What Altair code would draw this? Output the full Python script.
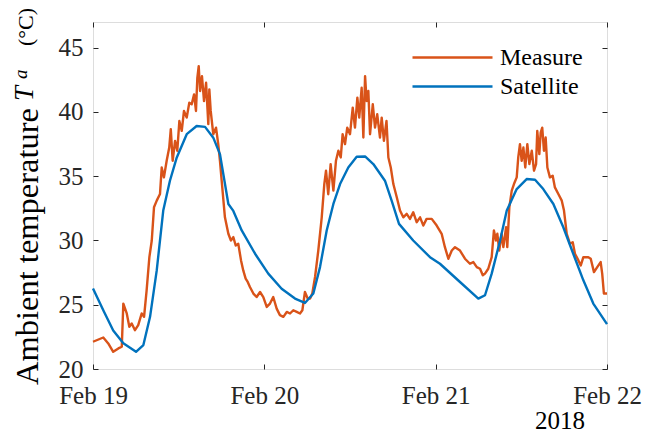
import altair as alt
import pandas as pd

# ---- data (x = days since Feb 19 2018 00:00, y = temperature in degC) ----
measure_day = [0.000, 0.060, 0.089, 0.118, 0.148, 0.168, 0.177, 0.197, 0.212, 0.226,
               0.245, 0.264, 0.284, 0.298, 0.313, 0.329, 0.343, 0.356, 0.372, 0.391,
               0.401, 0.414, 0.430, 0.445, 0.454, 0.465, 0.479, 0.492, 0.504, 0.518,
               0.531, 0.547, 0.562, 0.576, 0.590, 0.601, 0.609, 0.617, 0.625, 0.636,
               0.648, 0.660, 0.673, 0.679, 0.687, 0.702, 0.718, 0.731, 0.741, 0.751,
               0.770, 0.790, 0.805, 0.819, 0.833, 0.848, 0.864, 0.877, 0.891, 0.903,
               0.916, 0.936, 0.955, 0.975, 0.994, 1.014, 1.033, 1.052, 1.072, 1.091,
               1.111, 1.131, 1.150, 1.169, 1.189, 1.208, 1.222, 1.237, 1.253, 1.267,
               1.280, 1.296, 1.315, 1.335, 1.350, 1.360, 1.373, 1.387, 1.403, 1.418,
               1.432, 1.446, 1.457, 1.471, 1.484, 1.500, 1.516, 1.529, 1.543, 1.554,
               1.568, 1.578, 1.588, 1.597, 1.607, 1.617, 1.633, 1.646, 1.659, 1.675,
               1.685, 1.698, 1.713, 1.724, 1.738, 1.753, 1.773, 1.792, 1.811, 1.831,
               1.850, 1.869, 1.889, 1.909, 1.928, 1.947, 1.977, 2.006, 2.035, 2.054,
               2.074, 2.094, 2.113, 2.142, 2.171, 2.200, 2.220, 2.240, 2.259, 2.275,
               2.288, 2.307, 2.327, 2.340, 2.352, 2.360, 2.371, 2.385, 2.395, 2.411,
               2.418, 2.430, 2.444, 2.457, 2.473, 2.482, 2.492, 2.502, 2.512, 2.523,
               2.535, 2.547, 2.561, 2.574, 2.586, 2.593, 2.605, 2.613, 2.622, 2.632,
               2.642, 2.652, 2.667, 2.683, 2.696, 2.716, 2.736, 2.749, 2.765, 2.784,
               2.800, 2.813, 2.833, 2.847, 2.862, 2.891, 2.905, 2.924, 2.943, 2.963,
               2.972, 2.982, 3.000]
measure_temp = [22.12, 22.45, 21.99, 21.34, 21.60, 21.73, 25.09, 24.32, 23.28, 23.54,
                23.02, 23.41, 24.32, 24.06, 26.12, 28.70, 30.00, 32.58, 33.10, 33.62,
                35.68, 34.91, 36.20, 37.23, 38.66, 36.20, 37.75, 36.98, 39.30, 38.53,
                40.08, 39.56, 40.72, 40.60, 41.37, 40.08, 42.66, 43.57, 41.63, 42.79,
                40.85, 42.27, 39.05, 41.76, 40.08, 38.27, 38.78, 37.50, 36.20, 34.65,
                31.80, 30.52, 30.00, 30.26, 29.61, 29.74, 28.45, 27.67, 27.03, 26.77,
                26.38, 25.87, 25.60, 25.99, 25.60, 24.83, 25.09, 25.60, 24.70, 24.19,
                24.06, 24.44, 24.32, 24.57, 24.44, 24.32, 24.57, 25.99, 25.48, 25.48,
                25.87, 27.16, 29.22, 31.80, 34.39, 35.43, 33.60, 35.94, 33.88, 36.20,
                36.98, 36.46, 38.27, 37.50, 38.78, 38.27, 40.33, 38.78, 41.11, 39.56,
                41.88, 38.01, 42.79, 40.85, 41.63, 38.27, 40.60, 38.78, 39.82, 38.01,
                39.56, 37.75, 39.30, 36.46, 35.68, 34.39, 33.36, 32.33, 31.80, 32.07,
                31.68, 32.20, 31.42, 31.80, 31.16, 31.68, 31.68, 31.16, 30.52, 29.48,
                28.58, 29.22, 29.48, 29.22, 28.58, 28.19, 28.32, 27.93, 27.80, 27.29,
                27.42, 27.80, 28.70, 30.78, 30.00, 30.52, 29.22, 30.52, 29.48, 31.03,
                29.48, 32.58, 33.88, 34.39, 34.91, 36.46, 37.50, 36.20, 37.23, 35.68,
                37.50, 35.94, 36.98, 35.43, 35.94, 38.53, 36.72, 38.40, 38.78, 36.98,
                38.01, 35.68, 34.91, 35.04, 34.13, 33.62, 33.10, 32.33, 30.52, 29.74,
                29.87, 28.97, 28.45, 28.06, 28.70, 28.70, 28.58, 27.54, 27.93, 28.32,
                27.42, 25.87, 25.87]

satellite_day = [0.000, 0.060, 0.118, 0.177, 0.251, 0.294, 0.333, 0.372, 0.410, 0.449,
                 0.489, 0.547, 0.605, 0.654, 0.702, 0.741, 0.790, 0.819, 0.868, 0.946,
                 1.023, 1.101, 1.179, 1.237, 1.286, 1.325, 1.364, 1.403, 1.442, 1.490,
                 1.539, 1.588, 1.636, 1.704, 1.743, 1.786, 1.869, 1.967, 2.025, 2.142,
                 2.249, 2.288, 2.327, 2.376, 2.415, 2.473, 2.531, 2.580, 2.628, 2.687,
                 2.745, 2.803, 2.862, 2.920, 3.000]
satellite_temp = [26.26, 24.57, 23.00, 22.00, 21.34, 21.86, 24.06, 27.67, 32.33, 34.65,
                  36.46, 38.27, 38.91, 38.84, 38.00, 36.72, 32.84, 32.30, 30.78, 28.97,
                  27.42, 26.25, 25.48, 25.14, 25.87, 27.93, 30.78, 32.84, 34.39, 35.68,
                  36.51, 36.54, 35.95, 34.65, 33.10, 31.29, 30.00, 28.70, 28.19, 26.77,
                  25.48, 25.74, 27.42, 30.00, 32.33, 34.00, 34.78, 34.73, 34.00, 32.84,
                  31.03, 28.97, 26.90, 25.09, 23.49]

series_names = ["Measure", "Satellite"]
series_colors = ["#D95319", "#0072BD"]
x_tick_values = [0, 1, 2, 3]
y_tick_values = [20, 25, 30, 35, 40, 45]

df = pd.concat([
    pd.DataFrame({"day": measure_day, "temp": measure_temp, "series": "Measure"}),
    pd.DataFrame({"day": satellite_day, "temp": satellite_temp, "series": "Satellite"}),
], ignore_index=True)

W, H = 514, 347
FONT = "Liberation Serif, Times New Roman, serif"
AX = "#262626"

xscale = alt.Scale(domain=[0, 3], nice=False, zero=False)
yscale = alt.Scale(domain=[20, 47], nice=False, zero=False)

common_axis = dict(offset=-5, tickSize=5, domain=False, grid=False, title=None,
                   tickColor=AX, tickWidth=1, labelFont=FONT, labelFontSize=25,
                   labelColor=AX, labelFlush=False, labelOverlap=False)

x_bottom = alt.Axis(orient="bottom", values=x_tick_values,
                    labelExpr="'Feb ' + (19 + datum.value)", labelPadding=14,
                    **common_axis)
y_left = alt.Axis(orient="left", values=y_tick_values, labelPadding=10, **common_axis)
x_top = alt.Axis(orient="top", values=x_tick_values, labels=False, **common_axis)
y_right = alt.Axis(orient="right", values=y_tick_values, labels=False, **common_axis)

lines = alt.Chart(df).mark_line(strokeWidth=2.4, strokeJoin="round").encode(
    x=alt.X("day:Q", scale=xscale, axis=x_bottom),
    y=alt.Y("temp:Q", scale=yscale, axis=y_left),
    color=alt.Color("series:N",
                    scale=alt.Scale(domain=series_names, range=series_colors),
                    legend=alt.Legend(orient="none", legendX=318, legendY=22, title=None,
                                      symbolType="stroke", symbolSize=6400,
                                      symbolStrokeWidth=2.4, labelFont=FONT,
                                      labelFontSize=24, labelColor="#000000",
                                      clipHeight=27, rowPadding=2, labelOffset=6,
                                      padding=0, offset=0)),
    detail="series:N",
)

box_axes = alt.Chart(df).mark_line(opacity=0).encode(
    x=alt.X("day:Q", scale=xscale, axis=x_top),
    y=alt.Y("temp:Q", scale=yscale, axis=y_right),
    detail="series:N",
)

def label(txt, x, y, size, style="normal", align="left", angle=0, baseline="alphabetic"):
    return alt.Chart(pd.DataFrame({"t": [txt]})).mark_text(
        font=FONT, fontSize=size, fontStyle=style, align=align, angle=angle,
        baseline=baseline, color="#000000"
    ).encode(text="t:N", x=alt.value(x), y=alt.value(y))

title_parts = [
    label("Ambient temperature", -55.5, 363, 32.5, angle=270),
    label("T", -60, 79, 27, style="italic", angle=270),
    label("a", -66, 57, 19, style="italic", angle=270),
    label("(°C)", -60, 24, 22, angle=270),
]
year = label("2018", 467, 407, 25, align="center")

chart = alt.layer(lines, box_axes, *title_parts, year).resolve_axis(
    x="independent", y="independent"
).properties(
    width=W, height=H,
    autosize=alt.AutoSizeParams(type="none"),
    padding={"left": 85, "top": 14, "right": 45, "bottom": 68},
).configure_view(stroke=AX, strokeWidth=1
).configure_axis(labelFont=FONT
).configure_legend(labelFont=FONT
).configure_text(font=FONT
).configure(font=FONT)

chart.save("out.html", embed_options={"renderer": "svg", "actions": False})
